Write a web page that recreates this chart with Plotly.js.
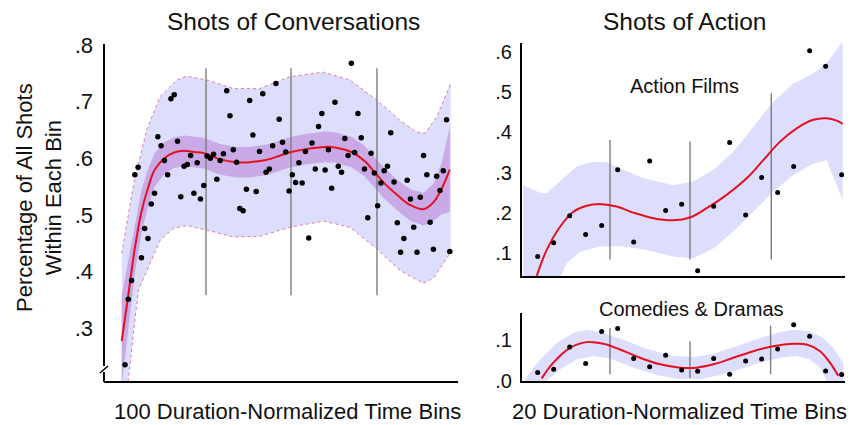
<!DOCTYPE html>
<html>
<head>
<meta charset="utf-8">
<script src="https://cdn.plot.ly/plotly-3.0.1.min.js"></script>
<style>html,body{margin:0;padding:0;background:#fff;}#chart{width:850px;height:425px;}</style>
</head>
<body>
<div id="chart"></div>
<script>
// ---------- Shots of Conversations (100 bins) ----------
var convBins = [];
for (var b = 1; b <= 100; b++) convBins.push(b);
var convShare = [
0.235,0.351,0.384,0.571,0.584,0.424,0.476,0.458,0.519,0.538,
0.638,0.622,0.596,0.571,0.705,0.712,0.630,0.532,0.586,0.589,
0.605,0.538,0.592,0.528,0.552,0.604,0.600,0.607,0.563,0.596,
0.608,0.719,0.675,0.615,0.593,0.511,0.507,0.545,0.702,0.641,
0.541,0.612,0.714,0.575,0.581,0.622,0.732,0.669,0.628,0.611,
0.542,0.571,0.557,0.592,0.556,0.612,0.459,0.627,0.581,0.656,
0.679,0.579,0.615,0.547,0.699,0.586,0.575,0.635,0.605,0.768,
0.610,0.679,0.636,0.581,0.495,0.609,0.574,0.516,0.556,0.578,
0.586,0.645,0.558,0.486,0.434,0.458,0.561,0.528,0.478,0.434,
0.531,0.605,0.571,0.487,0.439,0.568,0.543,0.578,0.668,0.435];

var convFitX  = [0,2,4,6,8,10,13,16,19,22,25,30,35,39,44,48,51,56,62,65,70,74,77,80,84,88,92,95,97.5,100];
var convFit   = [0.277,0.358,0.441,0.505,0.547,0.579,0.600,0.610,0.613,0.611,0.609,0.598,0.593,0.593,0.597,0.604,0.610,0.616,0.620,0.619,0.611,0.595,0.576,0.556,0.535,0.517,0.510,0.522,0.546,0.580];
var convCiHi  = [0.357,0.418,0.486,0.543,0.580,0.609,0.628,0.637,0.640,0.638,0.636,0.625,0.620,0.620,0.624,0.631,0.637,0.643,0.647,0.646,0.638,0.622,0.603,0.583,0.562,0.545,0.539,0.555,0.591,0.655];
var convCiLo  = [0.197,0.298,0.396,0.467,0.514,0.549,0.572,0.583,0.586,0.584,0.582,0.571,0.566,0.566,0.570,0.577,0.583,0.589,0.593,0.592,0.584,0.568,0.549,0.529,0.508,0.489,0.481,0.489,0.501,0.505];

var convPiHiX = [0,3.5,7.6,11.7,16.8,19.8,25.9,34,42,51.3,61.5,69.6,77.7,84.8,89.9,92.5,96,100.3];
var convPiHi  = [0.432,0.550,0.650,0.709,0.738,0.745,0.738,0.723,0.723,0.744,0.752,0.738,0.703,0.667,0.646,0.644,0.673,0.732];
var convPiLoX = [0,2,3.5,5.1,7.6,11.7,15.7,19.8,25.9,34,42,51.3,61.5,69.6,77.7,84.8,91.9,95,100.3];
var convPiLo  = [0.10,0.214,0.289,0.367,0.40,0.455,0.476,0.481,0.473,0.461,0.462,0.478,0.489,0.478,0.440,0.402,0.379,0.388,0.434];

var convDivX  = [25.7,51.6,77.8];
var convDivLo = [0.358,0.358,0.358];
var convDivHi = [0.759,0.759,0.759];

// ---------- Shots of Action: Action Films (20 bins) ----------
var actBins = [];
for (var k = 1; k <= 20; k++) actBins.push(k);
var actShare = [0.092,0.126,0.193,0.147,0.169,0.307,0.128,0.329,0.206,0.222,
                0.057,0.217,0.375,0.195,0.288,0.251,0.315,0.602,0.564,0.295];
var actFitX = [0.94,1.56,2.40,3.23,4.06,5.0,5.94,6.98,8.23,9.48,10.52,11.56,12.81,14.06,15.1,16.15,17.19,18.23,19.06,19.69,20.06];
var actFit  = [0.044,0.108,0.166,0.203,0.218,0.222,0.216,0.201,0.187,0.182,0.189,0.212,0.245,0.286,0.331,0.377,0.410,0.431,0.435,0.429,0.421];
var actHiX  = [0.1,1.15,1.56,2.4,3.44,4.48,5.31,6.15,7.6,9.48,10.73,11.98,13.23,14.48,15.73,16.98,18.23,19.06,19.9,20.06];
var actHi   = [0.269,0.250,0.249,0.278,0.315,0.327,0.326,0.311,0.286,0.269,0.278,0.307,0.352,0.414,0.476,0.521,0.546,0.571,0.617,0.625];
var actLoX  = [0.1,2.4,2.8,3.65,4.9,6.15,7.6,9.48,10.73,11.98,13.23,14.48,15.73,16.98,18.23,19.06,19.5,20.06];
var actLo   = [0.00,0.040,0.075,0.104,0.117,0.118,0.110,0.092,0.088,0.112,0.154,0.203,0.253,0.294,0.323,0.331,0.290,0.232];
var actDivX  = [5.52,10.52,15.6];
var actDivLo = [0.085,0.085,0.085];
var actDivHi = [0.381,0.377,0.497];

// ---------- Shots of Action: Comedies & Dramas (20 bins) ----------
var cdShare = [0.020,0.028,0.082,0.042,0.120,0.127,0.054,0.034,0.062,0.026,
               0.023,0.054,0.016,0.048,0.053,0.077,0.136,0.108,0.024,0.015];
var cdFitX = [1.25,1.98,3.02,4.06,5.1,6.15,7.4,8.65,9.9,10.94,11.98,13.23,14.48,15.73,16.98,17.81,18.65,19.27,19.79];
var cdFit  = [0.006,0.044,0.080,0.094,0.090,0.076,0.056,0.040,0.032,0.032,0.040,0.056,0.072,0.084,0.090,0.088,0.072,0.044,0.012];
var cdHiX  = [0.21,1.15,2.19,3.23,4.06,5.1,6.35,7.8,9.48,10.73,11.98,13.44,14.9,16.15,16.98,18.02,18.85,19.48,20.1];
var cdHi   = [0.004,0.052,0.092,0.116,0.124,0.116,0.100,0.078,0.060,0.058,0.066,0.084,0.104,0.118,0.124,0.120,0.104,0.080,0.044];
var cdLoX  = [0.21,1.56,2.4,3.44,4.48,5.52,6.98,8.65,9.9,11.15,12.4,13.65,14.9,16.15,17.19,18.02,18.65,19.06,20.1];
var cdLo   = [-0.01,0.000,0.028,0.052,0.060,0.054,0.032,0.012,0.004,0.004,0.014,0.028,0.044,0.056,0.060,0.052,0.032,0.000,-0.01];
var cdDivX  = [5.52,10.52,15.56];
var cdDivLo = [0.016,0.006,0.016];
var cdDivHi = [0.128,0.096,0.134];

// tick labels
var convTicks = [0.3,0.4,0.5,0.6,0.7,0.8];
var convTickText = ['.3','.4','.5','.6','.7','.8'];
var actTicks = [0.1,0.2,0.3,0.4,0.5,0.6];
var actTickText = ['.1','.2','.3','.4','.5','.6'];
var cdTicks = [0,0.1];
var cdTickText = ['.0','.1'];

// ---------- styles ----------
var FONT = 'Liberation Sans, Arial, Helvetica, sans-serif';
var OUTER = 'rgb(221,221,252)';
var INNER = 'rgb(201,170,231)';
var RED = 'rgb(228,16,34)';
var DIV = 'rgb(125,125,125)';

function poly(hx, hy, lx, ly) {
  return {
    x: hx.concat(lx.slice().reverse()),
    y: hy.concat(ly.slice().reverse())
  };
}
function divTrace(xs, lo, hi, xa, ya) {
  var x = [], y = [];
  for (var i = 0; i < xs.length; i++) { x.push(xs[i], xs[i], null); y.push(lo[i], hi[i], null); }
  return {x: x, y: y, xaxis: xa, yaxis: ya, mode: 'lines', line: {color: DIV, width: 1.4}, hoverinfo: 'skip'};
}

var pOuter = poly(convPiHiX, convPiHi, convPiLoX, convPiLo);
var pInner = poly(convFitX, convCiHi, convFitX, convCiLo);
var pAct = poly(actHiX, actHi, actLoX, actLo);
var pCd = poly(cdHiX, cdHi, cdLoX, cdLo);

var traces = [
  {x: pOuter.x, y: pOuter.y, xaxis: 'x', yaxis: 'y', mode: 'lines', fill: 'toself', fillcolor: OUTER, line: {width: 0}, hoverinfo: 'skip'},
  {x: convPiHiX, y: convPiHi, xaxis: 'x', yaxis: 'y', mode: 'lines', line: {color: 'rgb(225,120,170)', width: 1, dash: 'dot'}, hoverinfo: 'skip'},
  {x: convPiLoX, y: convPiLo, xaxis: 'x', yaxis: 'y', mode: 'lines', line: {color: 'rgb(225,120,170)', width: 1, dash: 'dot'}, hoverinfo: 'skip'},
  {x: pInner.x, y: pInner.y, xaxis: 'x', yaxis: 'y', mode: 'lines', fill: 'toself', fillcolor: INNER, line: {width: 0}, hoverinfo: 'skip'},
  divTrace(convDivX, convDivLo, convDivHi, 'x', 'y'),
  {x: convFitX, y: convFit, xaxis: 'x', yaxis: 'y', mode: 'lines', line: {color: RED, width: 2, shape: 'spline'}},
  {x: convBins, y: convShare, xaxis: 'x', yaxis: 'y', mode: 'markers', marker: {color: '#000', size: 5.5}},

  {x: pAct.x, y: pAct.y, xaxis: 'x2', yaxis: 'y2', mode: 'lines', fill: 'toself', fillcolor: OUTER, line: {width: 0}, hoverinfo: 'skip'},
  divTrace(actDivX, actDivLo, actDivHi, 'x2', 'y2'),
  {x: actFitX, y: actFit, xaxis: 'x2', yaxis: 'y2', mode: 'lines', line: {color: RED, width: 2, shape: 'spline'}},
  {x: actBins, y: actShare, xaxis: 'x2', yaxis: 'y2', mode: 'markers', marker: {color: '#000', size: 5}},

  {x: pCd.x, y: pCd.y, xaxis: 'x3', yaxis: 'y3', mode: 'lines', fill: 'toself', fillcolor: OUTER, line: {width: 0}, hoverinfo: 'skip'},
  divTrace(cdDivX, cdDivLo, cdDivHi, 'x3', 'y3'),
  {x: cdFitX, y: cdFit, xaxis: 'x3', yaxis: 'y3', mode: 'lines', line: {color: RED, width: 2, shape: 'spline'}},
  {x: actBins, y: cdShare, xaxis: 'x3', yaxis: 'y3', mode: 'markers', marker: {color: '#000', size: 5}}
];

function px(x) { return x / 850; }
function py(y) { return 1 - y / 425; }

var baseX = {showgrid: false, zeroline: false, showticklabels: false, ticks: '', showline: true, linewidth: 2, linecolor: '#000', fixedrange: true};
function yAx(o) {
  return Object.assign({showgrid: false, zeroline: false, ticks: '', showline: true, linewidth: 2, linecolor: '#000',
    tickfont: {family: FONT, size: 20, color: '#111'}, fixedrange: true}, o);
}

var layout = {
  width: 850, height: 425,
  margin: {l: 0, r: 0, t: 0, b: 0},
  paper_bgcolor: '#fff', plot_bgcolor: 'rgba(0,0,0,0)',
  showlegend: false,
  font: {family: FONT, color: '#111'},
  xaxis: Object.assign({}, baseX, {domain: [px(104), px(458)], range: [-5.4, 102.5], anchor: 'y'}),
  yaxis: yAx({domain: [py(381), py(44)], range: [0.2064, 0.8018], anchor: 'x', showline: false,
    tickvals: convTicks, ticktext: convTickText, ticklabelstandoff: 10,
    tickfont: {family: FONT, size: 22, color: '#111'}}),
  xaxis2: Object.assign({}, baseX, {domain: [px(522), px(845)], range: [0.02, 20.21], anchor: 'y2'}),
  yaxis2: yAx({domain: [py(276), py(43)], range: [0.0438, 0.6215], anchor: 'x2',
    tickvals: actTicks, ticktext: actTickText, ticklabelstandoff: 4}),
  xaxis3: Object.assign({}, baseX, {domain: [px(522), px(845)], range: [0.02, 20.21], anchor: 'y3'}),
  yaxis3: yAx({domain: [py(381), py(313)], range: [-0.0005, 0.1648], anchor: 'x3',
    tickvals: cdTicks, ticktext: cdTickText, ticklabelstandoff: 4}),
  shapes: [
    {type: 'line', xref: 'paper', yref: 'paper', x0: px(104), x1: px(104), y0: py(44), y1: py(366), line: {color: '#000', width: 2}},
    {type: 'line', xref: 'paper', yref: 'paper', x0: px(104), x1: px(104), y0: py(372), y1: py(382), line: {color: '#000', width: 2}},
    {type: 'line', xref: 'paper', yref: 'paper', x0: px(100), x1: px(108), y0: py(373), y1: py(366), line: {color: '#000', width: 1.5}}
  ],
  annotations: [
    {text: 'Shots of Conversations', xref: 'paper', yref: 'paper', x: px(293), y: py(22), showarrow: false, xanchor: 'center', yanchor: 'middle', font: {family: FONT, size: 24.5, color: '#111'}},
    {text: 'Shots of Action', xref: 'paper', yref: 'paper', x: px(684), y: py(22), showarrow: false, xanchor: 'center', yanchor: 'middle', font: {family: FONT, size: 24.5, color: '#111'}},
    {text: 'Percentage of All Shots<br>Within Each Bin', xref: 'paper', yref: 'paper', x: px(39), y: py(198), textangle: -90, showarrow: false, xanchor: 'center', yanchor: 'middle', font: {family: FONT, size: 22, color: '#111'}},
    {text: '100 Duration-Normalized Time Bins', xref: 'paper', yref: 'paper', x: px(287), y: py(411), showarrow: false, xanchor: 'center', yanchor: 'middle', font: {family: FONT, size: 22, color: '#111'}},
    {text: '20 Duration-Normalized Time Bins', xref: 'paper', yref: 'paper', x: px(679), y: py(411), showarrow: false, xanchor: 'center', yanchor: 'middle', font: {family: FONT, size: 22, color: '#111'}},
    {text: 'Action Films', xref: 'paper', yref: 'paper', x: px(684), y: py(86), showarrow: false, xanchor: 'center', yanchor: 'middle', font: {family: FONT, size: 20, color: '#111'}},
    {text: 'Comedies &amp; Dramas', xref: 'paper', yref: 'paper', x: px(691), y: py(309), showarrow: false, xanchor: 'center', yanchor: 'middle', font: {family: FONT, size: 20, color: '#111'}}
  ]
};

Plotly.newPlot('chart', traces, layout, {displayModeBar: false, staticPlot: true});
</script>
</body>
</html>
